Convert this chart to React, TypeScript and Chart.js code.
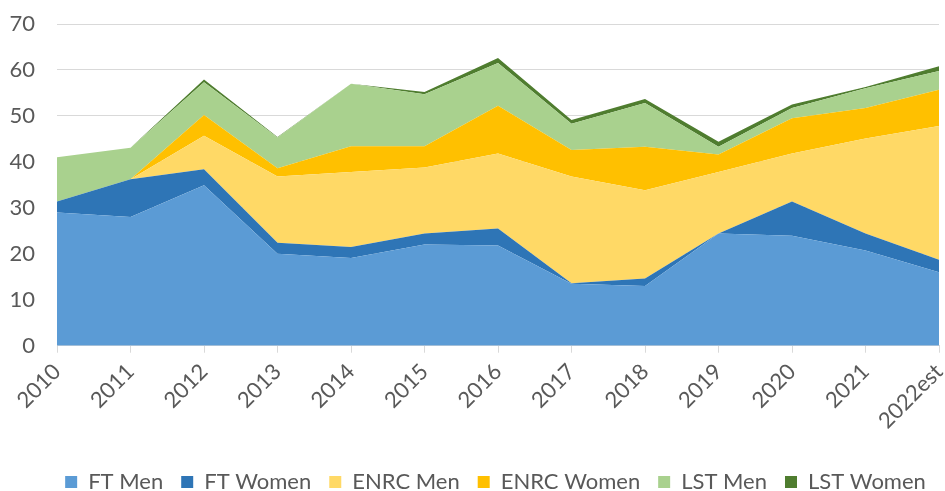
import React, { useEffect, useRef } from "react";
import { Chart, registerables } from "chart.js";

Chart.register(...registerables);

const years = ["2010", "2011", "2012", "2013", "2014", "2015", "2016", "2017", "2018", "2019", "2020", "2021", "2022est"];
const ftMen = [29.0, 28.0, 34.9, 20.0, 19.1, 22.0, 21.8, 13.5, 13.0, 24.4, 23.9, 20.7, 16.0];
const ftWomen = [2.4, 8.2, 3.5, 2.4, 2.4, 2.4, 3.7, 0.1, 1.6, 0.0, 7.5, 3.7, 2.7];
const enrcMen = [0, 0, 7.3, 14.4, 16.3, 14.4, 16.3, 23.2, 19.2, 13.4, 10.4, 20.7, 29.1];
const enrcWomen = [0, 0, 4.5, 1.8, 5.6, 4.6, 10.4, 5.8, 9.5, 3.8, 7.7, 6.6, 7.9];
const lstMen = [9.6, 6.9, 7.1, 6.7, 13.6, 11.3, 9.3, 5.7, 9.5, 1.7, 2.2, 4.3, 4.1];
const lstWomen = [0, 0, 0.6, 0.1, 0, 0.5, 1.1, 0.8, 0.9, 1.1, 0.8, 0.3, 1.0];

const seriesNames = ["FT Men", "FT Women", "ENRC Men", "ENRC Women", "LST Men", "LST Women"];
const seriesColors = ["#5b9bd5", "#2e75b6", "#ffd966", "#ffc000", "#a9d18e", "#4f7d2f"];

const legendShift = {
  id: "legendShift",
  afterLayout(chart: any) {
    const l = chart.legend;
    if (l) {
      l.top += 13;
      l.bottom += 13;
      l.left += 22;
      l.right += 22;
    }
  },
};

export default function App() {
  const ref = useRef<HTMLCanvasElement | null>(null);

  useEffect(() => {
    const values = [ftMen, ftWomen, enrcMen, enrcWomen, lstMen, lstWomen];
    const textColor = "#595959";
    const chart = new Chart(ref.current as HTMLCanvasElement, {
      type: "line",
      data: {
        labels: years,
        datasets: values.map((v, i) => ({
          label: seriesNames[i],
          data: v,
          backgroundColor: seriesColors[i],
          borderColor: seriesColors[i],
          borderWidth: 0,
          pointRadius: 0,
          tension: 0,
          fill: i === 0 ? "origin" : "-1",
        })),
      },
      plugins: [legendShift],
      options: {
        responsive: false,
        animation: false,
        devicePixelRatio: 1,
        layout: { padding: { left: 8, right: 6, top: 24, bottom: 1 } },
        plugins: {
          tooltip: { enabled: false },
          legend: {
            position: "bottom",
            labels: {
              color: textColor,
              font: { family: "Lato", size: 22 },
              boxWidth: 12,
              boxHeight: 12,
              padding: 18,
            },
          },
        },
        scales: {
          x: {
            offset: false,
            grid: {
              drawOnChartArea: false,
              drawTicks: true,
              tickLength: 7,
              color: "#d9d9d9",
            },
            border: { display: true, color: "#d9d9d9", width: 1 },
            ticks: {
              color: textColor,
              font: { family: "Lato", size: 22 },
              minRotation: 45,
              maxRotation: 45,
              padding: 6,
              autoSkip: false,
            },
            afterFit: (scale: any) => {
              scale.paddingRight = 0;
              scale.paddingLeft = 0;
            },
          },
          y: {
            stacked: true,
            min: 0,
            max: 70,
            grid: { color: "#d9d9d9", drawTicks: false, lineWidth: 1 },
            border: { display: false },
            ticks: {
              stepSize: 10,
              color: textColor,
              font: { family: "Lato", size: 22 },
              padding: 22,
            },
            afterFit: (scale: any) => {
              scale.width = 49;
              scale.paddingTop = 0;
              scale.paddingBottom = 0;
            },
          },
        },
      },
    });
    return () => chart.destroy();
  }, []);

  return (
    <div style={{ position: "fixed", left: 0, top: 0, width: 945, height: 491, background: "#fff" }}>
      <canvas ref={ref} width={945} height={491} style={{ width: 945, height: 491, display: "block" }} />
    </div>
  );
}
